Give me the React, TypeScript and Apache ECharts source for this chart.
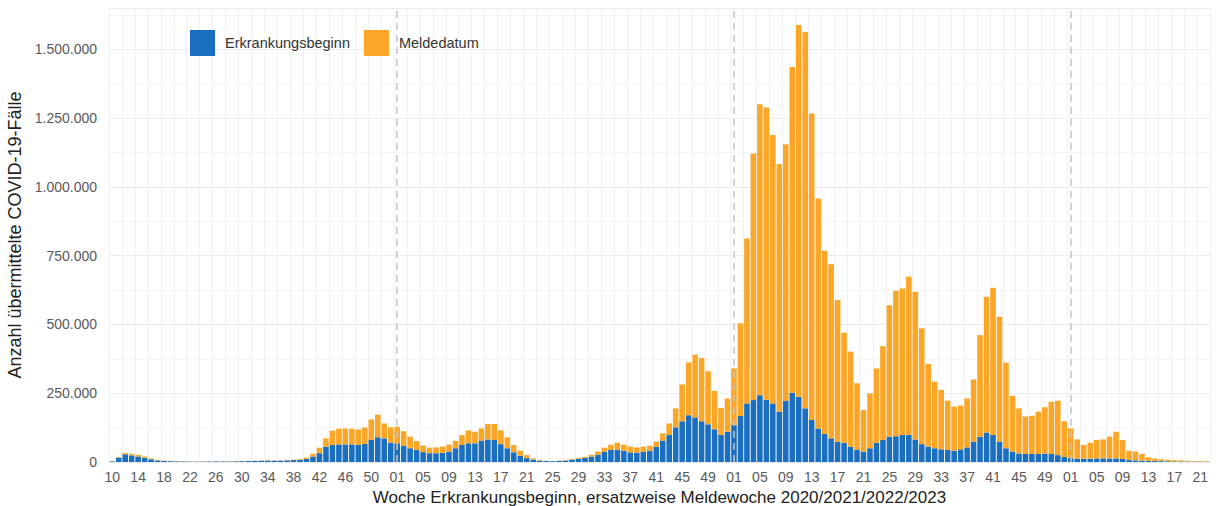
import React, { useEffect, useRef } from "react";
import * as echarts from "echarts";

// Week segments (year, first week, last week)
const weekSegments: [number, number, number][] = [
  [2020, 10, 53],
  [2021, 1, 52],
  [2022, 1, 52],
  [2023, 1, 22],
];

const categories: string[] = [];
weekSegments.forEach(([y, a, b]) => {
  for (let w = a; w <= b; w++) categories.push(`${y}-${w < 10 ? "0" + w : w}`);
});

// Year boundaries (week 01) drawn as dashed lines
const yearStarts = ["2021-01", "2022-01", "2023-01"];

// Erkrankungsbeginn (blue), in thousands
const erkrankungsbeginn = [
  2.5, 16, 28, 24, 20, 15, 10, 6, 4, 3,
  2.5, 2, 1.5, 1.5, 1.5, 2, 2.5, 2, 2, 2.5,
  3, 3.5, 4, 4.5, 5, 5, 5, 6, 7, 8.5,
  11, 20, 32, 55, 62, 64, 64, 64, 62, 66,
  80, 90, 86, 70, 68, 58, 50, 44, 36, 32,
  32, 33, 38, 50, 62, 68, 68, 78, 82, 80,
  65, 50, 35, 23, 14, 9, 5, 3.5, 3, 4,
  5.5, 9, 12, 15, 20, 27, 38, 44, 45, 41,
  35, 34, 37, 41, 55, 78, 98, 126, 148, 170,
  162, 148, 137, 119, 98, 110, 134, 167, 213, 225,
  243, 226, 213, 183, 223, 252, 237, 195, 153, 122,
  102, 86, 74, 70, 56, 44, 38, 50, 70, 80,
  92, 94, 98, 99, 82, 65, 56, 50, 46, 44,
  41, 46, 53, 74, 92, 107, 98, 74, 50, 38,
  31, 29, 29, 29, 31, 29, 25, 18, 14, 12,
  12, 12, 13, 13, 13, 13, 11, 7, 6, 5,
  4, 3.5, 3, 2.5, 2, 2, 1.5, 1.5, 1, 1,
];

// Total height (Erkrankungsbeginn + Meldedatum), in thousands
const gesamt = [
  3, 18, 33, 30, 26, 20, 13, 8, 5, 4,
  3, 2.5, 2, 2, 2, 2.5, 3, 2.5, 2.5, 3,
  3.5, 4, 5, 5.5, 6, 6, 6.5, 7.5, 9, 11,
  16, 30, 52, 86, 114, 121, 122, 121, 118, 125,
  155, 172, 140, 126, 128, 112, 92, 76, 60, 52,
  53, 56, 63, 77, 98, 115, 110, 122, 138, 138,
  115, 90, 62, 41, 25, 13, 7, 4.5, 4, 5,
  7, 11, 15, 19, 26, 38, 52, 63, 70, 63,
  56, 53, 56, 59, 74, 104, 140, 195, 282, 362,
  390, 378, 330, 258, 196, 231, 340, 504, 812, 1121,
  1300, 1288, 1188, 1083, 1155, 1436, 1588, 1563, 1267, 958,
  768, 719, 589, 470, 401, 286, 189, 249, 340, 421,
  570, 622, 631, 673, 619, 486, 356, 292, 262, 223,
  201, 205, 231, 300, 461, 601, 633, 528, 361, 240,
  195, 165, 168, 183, 199, 219, 223, 148, 122, 82,
  62, 70, 80, 82, 92, 110, 80, 41, 38, 29,
  17, 13, 10, 8, 7, 6, 5, 4, 3, 3,
];

const blueData = erkrankungsbeginn.map((v) => v * 1000);
const orangeData = gesamt.map((v, i) => Math.max(0, v - erkrankungsbeginn[i]) * 1000);

const fmt = (v: number) => String(Math.round(v)).replace(/\B(?=(\d{3})+(?!\d))/g, ".");

const FONT = "'Liberation Sans', Arial, sans-serif";

export default function App() {
  const ref = useRef<HTMLDivElement>(null);
  useEffect(() => {
    if (!ref.current) return;
    const chart = echarts.init(ref.current, undefined, { renderer: "svg" });
    chart.setOption({
      animation: false,
      backgroundColor: "#ffffff",
      textStyle: { fontFamily: FONT },
      grid: { left: 109, right: 6, top: 8, bottom: 44, containLabel: false, outerBoundsMode: "none" },
      legend: {
        left: 185,
        top: 25,
        icon: "rect",
        itemWidth: 25,
        itemHeight: 26,
        itemGap: 14,
        textStyle: { fontSize: 14.5, color: "#333", fontFamily: FONT, padding: [0, 0, 0, 5] },
        data: ["Erkrankungsbeginn", "Meldedatum"],
      },
      xAxis: {
        type: "category",
        data: categories,
        boundaryGap: true,
        axisLine: { show: false },
        axisTick: { show: false },
        axisLabel: {
          interval: 3,
          margin: 8,
          fontSize: 14,
          color: "#595959",
          fontFamily: FONT,
          formatter: (v: string) => v.slice(5),
        },
        splitLine: { show: true, interval: 1, lineStyle: { color: "#f2f2f2", width: 1 } },
        name: "Woche Erkrankungsbeginn, ersatzweise Meldewoche 2020/2021/2022/2023",
        nameLocation: "middle",
        nameGap: 21,
        nameTextStyle: { fontSize: 17, lineHeight: 18, color: "#222", fontFamily: FONT },
      },
      yAxis: {
        type: "value",
        min: 0,
        max: 1650000,
        interval: 250000,
        axisLine: { show: false },
        axisTick: { show: false },
        axisLabel: {
          margin: 12,
          fontSize: 14,
          color: "#595959",
          fontFamily: FONT,
          showMaxLabel: false,
          formatter: (v: number) => (v % 250000 === 0 ? fmt(v) : ""),
        },
        splitLine: { show: true, lineStyle: { color: "#ebebeb", width: 1 } },
        minorTick: { show: false, splitNumber: 2 },
        minorSplitLine: { show: true, lineStyle: { color: "#f5f5f5", width: 1 } },
        name: "Anzahl übermittelte COVID-19-Fälle",
        nameLocation: "middle",
        nameRotate: 90,
        nameGap: 81,
        nameTextStyle: { fontSize: 18, color: "#222", fontFamily: FONT },
      },
      series: [
        {
          name: "Erkrankungsbeginn",
          type: "bar",
          stack: "total",
          data: blueData,
          barCategoryGap: "14%",
          itemStyle: { color: "#1b6fc0" },
          markLine: {
            silent: true,
            symbol: "none",
            label: { show: false },
            lineStyle: { type: [7, 5], color: "#c4c4c4", width: 1.5 },
            data: yearStarts.map((c) => ({ xAxis: c })),
          },
        },
        {
          name: "Meldedatum",
          type: "bar",
          stack: "total",
          data: orangeData,
          barCategoryGap: "14%",
          itemStyle: { color: "#fba626" },
        },
      ],
    });
    return () => chart.dispose();
  }, []);
  return (
    <div
      ref={ref}
      style={{ position: "fixed", left: 0, top: 0, width: 1216, height: 506, background: "#fff" }}
    />
  );
}
